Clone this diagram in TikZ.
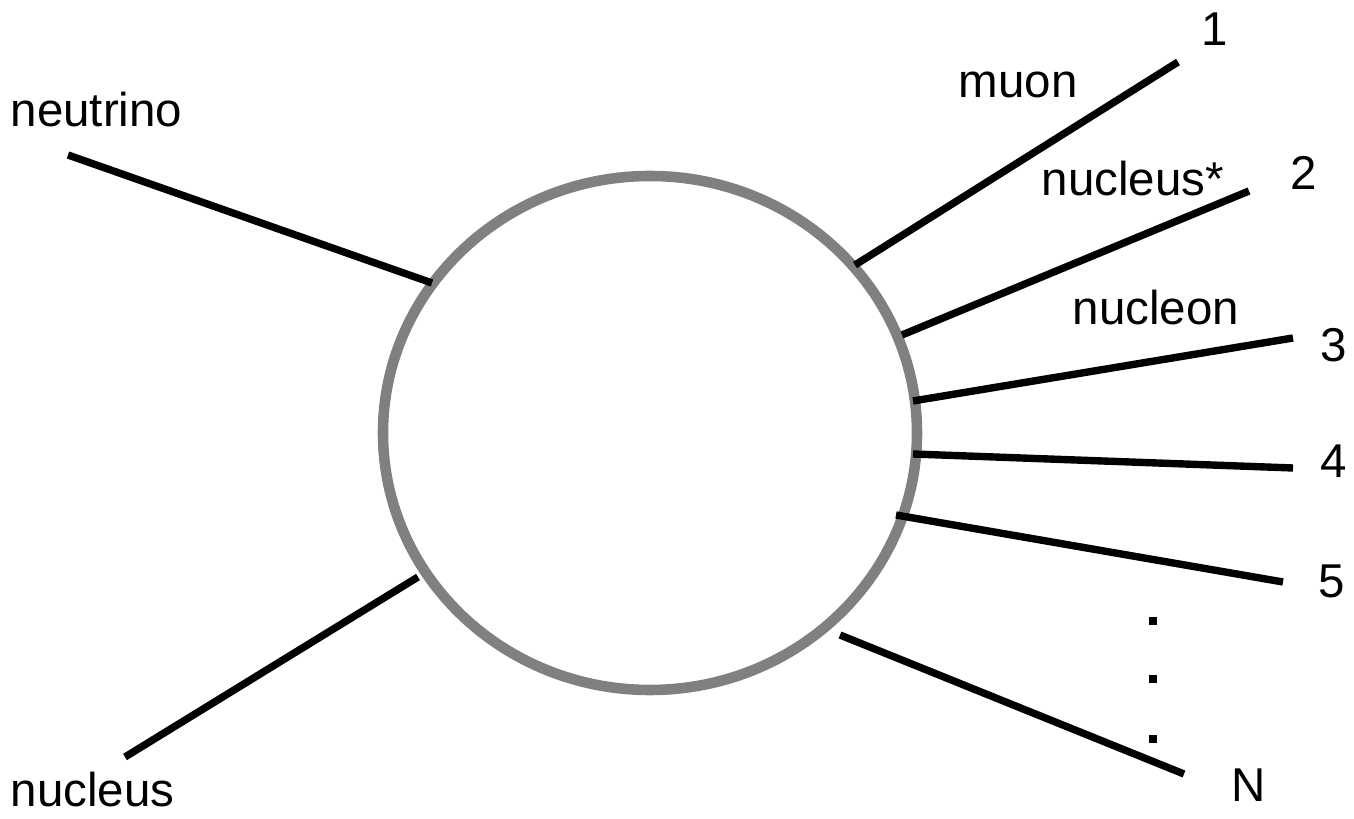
\documentclass[tikz,border=0pt]{standalone}
\usepackage{fontspec}
\setmainfont{Liberation Sans}
\usepackage{tikz}
\usetikzlibrary{calc, positioning}

\tikzset{
    leg/.style={line width=2.1pt, black},
    lab/.style={anchor=base west, inner sep=0pt, font=\fontsize{13.5}{16}\selectfont}
}

\begin{document}
\begin{tikzpicture}[x=0.01cm, y=-0.01cm]
    \useasboundingbox (0,0) rectangle (1354,819);

    % 1. Vùng tương tác (vòng tròn xám)
    \draw[line width=3pt, black!50] (650,433) ellipse [x radius=267, y radius=257];

    % 2. Các điểm đầu và cuối của các đường
    \coordinate (nuA) at (68,155);   \coordinate (nuB) at (432,283);
    \coordinate (AA) at (125,757);   \coordinate (AB) at (418,577);
    \coordinate (o1A) at (855,265);  \coordinate (o1B) at (1178,62);
    \coordinate (o2A) at (902,335);  \coordinate (o2B) at (1249,191);
    \coordinate (o3A) at (913,401);  \coordinate (o3B) at (1293,338);
    \coordinate (o4A) at (913,454);  \coordinate (o4B) at (1293,468);
    \coordinate (o5A) at (896,515);  \coordinate (o5B) at (1283,582);
    \coordinate (oNA) at (840,635);  \coordinate (oNB) at (1184,774);

    % 3. Hạt tới và hạt ra
    \draw[leg] (nuA) -- (nuB);
    \draw[leg] (AA) -- (AB);
    \draw[leg] (o1A) -- (o1B);
    \draw[leg] (o2A) -- (o2B);
    \draw[leg] (o3A) -- (o3B);
    \draw[leg] (o4A) -- (o4B);
    \draw[leg] (o5A) -- (o5B);
    \draw[leg] (oNA) -- (oNB);

    % 4. Nhãn
    \node[lab] (neutrino) at (10,127) {neutrino};
    \node[lab] (nucleus) at (10,807) {nucleus};
    \node[lab] (muon) at (958,98) {muon};
    \node[lab] (nucleusx) at (1041,196) {nucleus*};
    \node[lab] (nucleon) at (1072,325) {nucleon};
    \node[lab] (n1) at (1201,46) {1};
    \node[lab] (n2) at (1290,190) {2};
    \node[lab] (n3) at (1320,362) {3};
    \node[lab] (n4) at (1320,478) {4};
    \node[lab] (n5) at (1318,598) {5};
    \node[lab] (nN) at (1231,802) {N};

    % 5. Dấu chấm
    \foreach \y in {621, 679, 739}
        \fill (1149,\y-4) rectangle (1157,\y+4);
\end{tikzpicture}
\end{document}
